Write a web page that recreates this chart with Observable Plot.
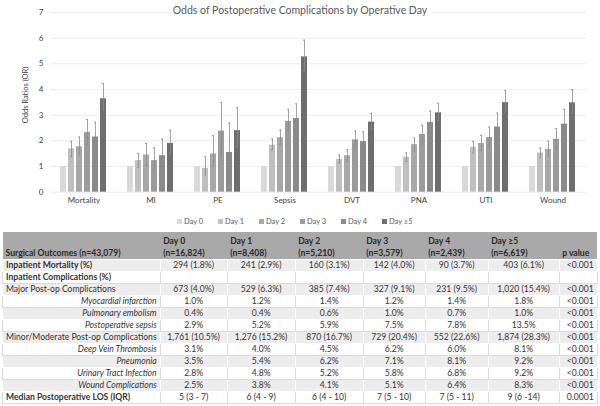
<!DOCTYPE html>
<html>
<head>
<meta charset="utf-8">
<script src="https://cdn.jsdelivr.net/npm/d3@7"></script>
<script src="https://cdn.jsdelivr.net/npm/@observablehq/plot@0.6"></script>
<style>
  html, body { margin: 0; padding: 0; background: #fff; }
  body { width: 600px; height: 406px; overflow: hidden; font-family: Lato, "Open Sans", sans-serif; position: relative; }
  #title { position: absolute; top: -2px; left: 0; width: 600px; text-align: center; pointer-events: none; }
  #title span { background: #fff; padding: 0 5px; font-size: 10.5px; color: #595959; }
  #ylabel { position: absolute; left: 25px; top: 95px; transform: translate(-50%, -50%) rotate(-90deg); font-size: 7.5px; color: #404040; white-space: nowrap; }
  #legend { height: 22px; display: flex; justify-content: center; align-items: center; font-size: 7.5px; color: #595959; }
  #legend .item { width: 41px; display: flex; align-items: center; }
  #legend .sw { width: 5px; height: 5px; margin-right: 2px; }
  table { border-collapse: collapse; margin-left: 2px; table-layout: fixed; font-size: 8.6px; color: #333; }
  td { padding: 0 3px; height: 11px; line-height: 11px; border: 1px solid #dadada; white-space: nowrap; overflow: hidden; }
  tr.hdr td { background: #a9a9a9; font-weight: bold; color: #2b2b2b; vertical-align: bottom; height: 27px; line-height: 12px; border: none; text-align: left; }
  tr.shade td { background: #ededed; border-color: #fff; }
  td.num { text-align: center; }
  td.p { text-align: right; }
  td.bold { font-weight: bold; }
  td.sub { font-style: italic; text-align: right; }
</style>
</head>
<body>
<div id="chart"></div>
<div id="title"><span>Odds of Postoperative Complications by Operative Day</span></div>
<div id="ylabel">Odds Ratios (OR)</div>
<div id="legend"></div>
<div id="table"></div>
<script>
// ---- Chart data ----
const groups = ["Mortality", "MI", "PE", "Sepsis", "DVT", "PNA", "UTI", "Wound"];
const days = ["Day 0", "Day 1", "Day 2", "Day 3", "Day 4", "Day ≥5"];
const dayColors = ["#d9d9d9", "#bfbfbf", "#a8a8a8", "#9b9b9b", "#8a8a8a", "#6e6e6e"];
const yTicks = [0, 1, 2, 3, 4, 5, 6, 7];

const mortalityOR = [1, 1.69, 1.77, 2.33, 2.15, 3.64];
const mortalityLo = [null, 1.38, 1.45, 1.85, 1.66, 3.20];
const mortalityHi = [null, 1.98, 2.15, 2.83, 2.73, 4.23];

const miOR = [1, 1.23, 1.45, 1.23, 1.42, 1.90];
const miLo = [null, 0.97, 1.03, 0.84, 0.97, 1.49];
const miHi = [null, 1.51, 1.90, 1.73, 2.07, 2.41];

const peOR = [1, 0.93, 1.49, 2.38, 1.55, 2.40];
const peLo = [null, 0.67, 1.03, 1.42, 0.90, 1.78];
const peHi = [null, 1.38, 2.20, 3.50, 2.70, 3.29];

const sepsisOR = [1, 1.83, 2.12, 2.76, 2.87, 5.27];
const sepsisLo = [null, 1.64, 1.85, 2.36, 2.35, 4.75];
const sepsisHi = [null, 2.07, 2.42, 3.23, 3.44, 5.92];

const dvtOR = [1, 1.28, 1.42, 2.04, 1.97, 2.73];
const dvtLo = [null, 1.14, 1.20, 1.71, 1.64, 2.42];
const dvtHi = [null, 1.45, 1.66, 2.38, 2.35, 3.07];

const pnaOR = [1, 1.36, 1.85, 2.25, 2.72, 3.09];
const pnaLo = [null, 1.20, 1.60, 1.94, 2.32, 2.78];
const pnaHi = [null, 1.53, 2.11, 2.61, 3.16, 3.45];

const utiOR = [1, 1.75, 1.90, 2.13, 2.54, 3.49];
const utiLo = [null, 1.53, 1.62, 1.77, 2.16, 3.10];
const utiHi = [null, 1.98, 2.21, 2.54, 3.08, 3.96];

const woundOR = [1, 1.53, 1.67, 2.06, 2.65, 3.48];
const woundLo = [null, 1.33, 1.40, 1.69, 2.16, 3.07];
const woundHi = [null, 1.72, 1.99, 2.48, 3.23, 4.00];

const seriesByGroup = [
  [mortalityOR, mortalityLo, mortalityHi],
  [miOR, miLo, miHi],
  [peOR, peLo, peHi],
  [sepsisOR, sepsisLo, sepsisHi],
  [dvtOR, dvtLo, dvtHi],
  [pnaOR, pnaLo, pnaHi],
  [utiOR, utiLo, utiHi],
  [woundOR, woundLo, woundHi]
];

const barData = [];
groups.forEach((g, gi) => {
  const [or, lo, hi] = seriesByGroup[gi];
  days.forEach((d, di) => barData.push({group: g, day: d, or: or[di], lo: lo[di], hi: hi[di]}));
});

const hasCI = d => d.lo != null;

const chart = Plot.plot({
  width: 600,
  height: 210,
  marginTop: 12,
  marginBottom: 18.3,
  marginLeft: 48,
  marginRight: 13,
  style: {fontFamily: "Lato, 'Open Sans', sans-serif", fontSize: "8px", color: "#404040", background: "white"},
  facet: {data: barData, x: "group"},
  fx: {domain: groups, padding: 0, label: null, tickSize: 0, tickPadding: 5, axis: "bottom"},
  x: {domain: days, axis: null, paddingInner: 0.22, paddingOuter: 0.85},
  y: {domain: [0, 7], ticks: yTicks, tickFormat: d => String(d), grid: true, tickSize: 0, tickPadding: 7, label: null},
  color: {domain: days, range: dayColors},
  marks: [
    Plot.barY(barData, {x: "day", y: "or", fill: "day"}),
    Plot.ruleX(barData, {filter: hasCI, x: "day", y1: "lo", y2: "hi", stroke: "#8c8c8c", strokeWidth: 0.8}),
    Plot.tickY(barData, {filter: hasCI, x: "day", y: "lo", stroke: "#8c8c8c", strokeWidth: 0.8, insetLeft: 2, insetRight: 2}),
    Plot.tickY(barData, {filter: hasCI, x: "day", y: "hi", stroke: "#8c8c8c", strokeWidth: 0.8, insetLeft: 2, insetRight: 2})
  ]
});
document.getElementById("chart").appendChild(chart);

// legend
const legend = document.getElementById("legend");
days.forEach((d, i) => {
  const item = document.createElement("div");
  item.className = "item";
  const sw = document.createElement("span");
  sw.className = "sw";
  sw.style.background = dayColors[i];
  const t = document.createElement("span");
  t.textContent = d;
  item.appendChild(sw); item.appendChild(t);
  legend.appendChild(item);
});

// ---- Table data ----
const headerLine1 = ["", "Day 0", "Day 1", "Day 2", "Day 3", "Day 4", "Day ≥5", ""];
const headerLine2 = ["Surgical Outcomes (n=43,079)", "(n=16,824)", "(n=8,408)", "(n=5,210)", "(n=3,579)", "(n=2,439)", "(n=6,619)", "p value"];
const rowLabels = ["Inpatient Mortality (%)", "Inpatient Complications (%)", "Major Post-op Complications",
  "Myocardial infarction", "Pulmonary embolism", "Postoperative sepsis", "Minor/Moderate Post-op Complications",
  "Deep Vein Thrombosis", "Pneumonia", "Urinary Tract Infection", "Wound Complications", "Median Postoperative LOS (IQR)"];
const rowKinds = ["bold", "bold", "plain", "sub", "sub", "sub", "plain", "sub", "sub", "sub", "sub", "bold"];
const colDay0 = ["294 (1.8%)", "", "673 (4.0%)", "1.0%", "0.4%", "2.9%", "1,761 (10.5%)", "3.1%", "3.5%", "2.8%", "2.5%", "5 (3 - 7)"];
const colDay1 = ["241 (2.9%)", "", "529 (6.3%)", "1.2%", "0.4%", "5.2%", "1,276 (15.2%)", "4.0%", "5.4%", "4.8%", "3.8%", "6 (4 - 9)"];
const colDay2 = ["160 (3.1%)", "", "385 (7.4%)", "1.4%", "0.6%", "5.9%", "870 (16.7%)", "4.5%", "6.2%", "5.2%", "4.1%", "6 (4 - 10)"];
const colDay3 = ["142 (4.0%)", "", "327 (9.1%)", "1.2%", "1.0%", "7.5%", "729 (20.4%)", "6.2%", "7.1%", "5.8%", "5.1%", "7 (5 - 10)"];
const colDay4 = ["90 (3.7%)", "", "231 (9.5%)", "1.4%", "0.7%", "7.8%", "552 (22.6%)", "6.0%", "8.1%", "6.8%", "6.4%", "7 (5 - 11)"];
const colDay5 = ["403 (6.1%)", "", "1,020 (15.4%)", "1.8%", "1.0%", "13.5%", "1,874 (28.3%)", "8.1%", "9.2%", "9.2%", "8.3%", "9 (6 -14)"];
const colP = ["<0.001", "", "<0.001", "<0.001", "<0.001", "<0.001", "<0.001", "<0.001", "<0.001", "<0.001", "<0.001", "0.0001"];
const rowShaded = [true, false, true, false, true, false, true, false, true, false, true, false];
const colWidths = [153, 67, 68, 68, 62, 63, 71, 38];

const table = document.createElement("table");
const cg = document.createElement("colgroup");
colWidths.forEach(w => { const c = document.createElement("col"); c.style.width = w + "px"; cg.appendChild(c); });
table.appendChild(cg);
const hr = document.createElement("tr");
hr.className = "hdr";
headerLine2.forEach((h, i) => {
  const td = document.createElement("td");
  if (headerLine1[i]) { td.appendChild(document.createTextNode(headerLine1[i])); td.appendChild(document.createElement("br")); }
  td.appendChild(document.createTextNode(h));
  hr.appendChild(td);
});
table.appendChild(hr);
const dataCols = [colDay0, colDay1, colDay2, colDay3, colDay4, colDay5];
rowLabels.forEach((lab, r) => {
  const tr = document.createElement("tr");
  if (rowShaded[r]) tr.className = "shade";
  const td0 = document.createElement("td");
  td0.textContent = lab;
  if (rowKinds[r] !== "plain") td0.className = rowKinds[r];
  tr.appendChild(td0);
  dataCols.forEach(col => { const td = document.createElement("td"); td.className = "num"; td.textContent = col[r]; tr.appendChild(td); });
  const tp = document.createElement("td"); tp.className = "p"; tp.textContent = colP[r]; tr.appendChild(tp);
  table.appendChild(tr);
});
document.getElementById("table").appendChild(table);
</script>
</body>
</html>
